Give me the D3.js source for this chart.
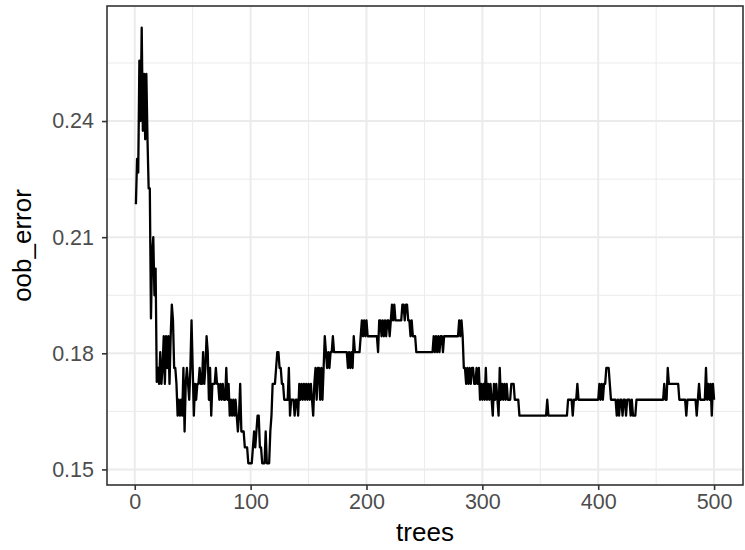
<!DOCTYPE html>
<html>
<head>
<meta charset="utf-8">
<script src="https://cdn.jsdelivr.net/npm/d3@7"></script>
<style>
  body { margin: 0; background: #fff; }
  svg { display: block; font-family: "Liberation Sans", Arial, sans-serif; }
</style>
</head>
<body>
<div class="graphic"></div>
<script>
// number of trees grown, oob error rate after each tree
var trees = d3.range(1, 501);
var oob_error = [
  0.2185, 0.2302, 0.2267, 0.2556, 0.2400, 0.2641, 0.2375, 0.2522, 0.2353, 0.2522,
  0.2353, 0.2226, 0.2226, 0.1890, 0.2058, 0.2100, 0.1950, 0.2019, 0.1726, 0.1762,
  0.1721, 0.1803, 0.1721, 0.1762, 0.1844, 0.1721, 0.1844, 0.1762, 0.1844, 0.1721,
  0.1844, 0.1926, 0.1885, 0.1762, 0.1762, 0.1721, 0.1639, 0.1680, 0.1639, 0.1680,
  0.1639, 0.1762, 0.1598, 0.1721, 0.1762, 0.1721, 0.1680, 0.1762, 0.1885, 0.1762,
  0.1639, 0.1721, 0.1680, 0.1721, 0.1721, 0.1762, 0.1721, 0.1721, 0.1803, 0.1721,
  0.1762, 0.1844, 0.1803, 0.1680, 0.1762, 0.1639, 0.1721, 0.1721, 0.1721, 0.1762,
  0.1721, 0.1721, 0.1680, 0.1721, 0.1680, 0.1721, 0.1680, 0.1680, 0.1762, 0.1680,
  0.1721, 0.1639, 0.1680, 0.1639, 0.1680, 0.1639, 0.1680, 0.1639, 0.1598, 0.1639,
  0.1721, 0.1598, 0.1598, 0.1598, 0.1557, 0.1557, 0.1557, 0.1516, 0.1516, 0.1516,
  0.1516, 0.1557, 0.1598, 0.1557, 0.1598, 0.1639, 0.1639, 0.1557, 0.1557, 0.1516,
  0.1516, 0.1516, 0.1598, 0.1516, 0.1516, 0.1516, 0.1598, 0.1639, 0.1721, 0.1721,
  0.1721, 0.1762, 0.1803, 0.1803, 0.1762, 0.1762, 0.1721, 0.1721, 0.1680, 0.1680,
  0.1680, 0.1680, 0.1762, 0.1639, 0.1680, 0.1680, 0.1680, 0.1639, 0.1680, 0.1680,
  0.1639, 0.1721, 0.1680, 0.1721, 0.1680, 0.1721, 0.1680, 0.1721, 0.1680, 0.1721,
  0.1680, 0.1721, 0.1680, 0.1639, 0.1721, 0.1762, 0.1680, 0.1762, 0.1762, 0.1680,
  0.1762, 0.1680, 0.1762, 0.1844, 0.1803, 0.1762, 0.1803, 0.1762, 0.1803, 0.1803,
  0.1844, 0.1803, 0.1803, 0.1803, 0.1803, 0.1803, 0.1803, 0.1803, 0.1803, 0.1803,
  0.1803, 0.1803, 0.1803, 0.1762, 0.1803, 0.1762, 0.1803, 0.1762, 0.1844, 0.1803,
  0.1803, 0.1803, 0.1803, 0.1803, 0.1844, 0.1885, 0.1844, 0.1885, 0.1844, 0.1885,
  0.1844, 0.1844, 0.1844, 0.1844, 0.1844, 0.1844, 0.1844, 0.1844, 0.1844, 0.1803,
  0.1885, 0.1885, 0.1844, 0.1885, 0.1844, 0.1885, 0.1844, 0.1885, 0.1885, 0.1844,
  0.1885, 0.1926, 0.1885, 0.1926, 0.1885, 0.1885, 0.1885, 0.1885, 0.1885, 0.1885,
  0.1926, 0.1926, 0.1885, 0.1926, 0.1926, 0.1885, 0.1885, 0.1844, 0.1885, 0.1844,
  0.1844, 0.1844, 0.1803, 0.1803, 0.1803, 0.1803, 0.1803, 0.1803, 0.1803, 0.1803,
  0.1803, 0.1803, 0.1803, 0.1803, 0.1803, 0.1803, 0.1803, 0.1844, 0.1803, 0.1844,
  0.1803, 0.1844, 0.1803, 0.1844, 0.1844, 0.1803, 0.1844, 0.1844, 0.1844, 0.1844,
  0.1844, 0.1844, 0.1844, 0.1844, 0.1844, 0.1844, 0.1844, 0.1844, 0.1844, 0.1885,
  0.1844, 0.1885, 0.1844, 0.1762, 0.1762, 0.1721, 0.1762, 0.1721, 0.1762, 0.1721,
  0.1762, 0.1762, 0.1721, 0.1721, 0.1762, 0.1721, 0.1762, 0.1680, 0.1721, 0.1680,
  0.1721, 0.1680, 0.1762, 0.1680, 0.1721, 0.1680, 0.1721, 0.1680, 0.1639, 0.1721,
  0.1680, 0.1721, 0.1680, 0.1639, 0.1762, 0.1680, 0.1721, 0.1680, 0.1721, 0.1680,
  0.1721, 0.1680, 0.1680, 0.1680, 0.1721, 0.1721, 0.1721, 0.1680, 0.1680, 0.1680,
  0.1680, 0.1639, 0.1639, 0.1639, 0.1639, 0.1639, 0.1639, 0.1639, 0.1639, 0.1639,
  0.1639, 0.1639, 0.1639, 0.1639, 0.1639, 0.1639, 0.1639, 0.1639, 0.1639, 0.1639,
  0.1639, 0.1639, 0.1639, 0.1639, 0.1639, 0.1680, 0.1639, 0.1639, 0.1639, 0.1639,
  0.1639, 0.1639, 0.1639, 0.1639, 0.1639, 0.1639, 0.1639, 0.1639, 0.1639, 0.1639,
  0.1639, 0.1639, 0.1639, 0.1680, 0.1680, 0.1680, 0.1680, 0.1639, 0.1680, 0.1680,
  0.1680, 0.1721, 0.1680, 0.1680, 0.1680, 0.1680, 0.1680, 0.1680, 0.1680, 0.1680,
  0.1680, 0.1680, 0.1680, 0.1680, 0.1680, 0.1680, 0.1680, 0.1680, 0.1680, 0.1680,
  0.1721, 0.1680, 0.1721, 0.1680, 0.1721, 0.1721, 0.1762, 0.1762, 0.1762, 0.1721,
  0.1680, 0.1680, 0.1680, 0.1680, 0.1680, 0.1639, 0.1680, 0.1639, 0.1680, 0.1680,
  0.1639, 0.1680, 0.1680, 0.1639, 0.1680, 0.1680, 0.1680, 0.1639, 0.1680, 0.1639,
  0.1639, 0.1639, 0.1680, 0.1680, 0.1680, 0.1680, 0.1680, 0.1680, 0.1680, 0.1680,
  0.1680, 0.1680, 0.1680, 0.1680, 0.1680, 0.1680, 0.1680, 0.1680, 0.1680, 0.1680,
  0.1680, 0.1680, 0.1680, 0.1680, 0.1680, 0.1680, 0.1721, 0.1680, 0.1680, 0.1762,
  0.1721, 0.1721, 0.1721, 0.1721, 0.1721, 0.1721, 0.1721, 0.1721, 0.1721, 0.1680,
  0.1680, 0.1680, 0.1680, 0.1680, 0.1680, 0.1639, 0.1680, 0.1680, 0.1680, 0.1680,
  0.1680, 0.1680, 0.1680, 0.1680, 0.1639, 0.1680, 0.1721, 0.1680, 0.1680, 0.1680,
  0.1680, 0.1680, 0.1762, 0.1680, 0.1721, 0.1680, 0.1721, 0.1639, 0.1721, 0.1680
];
var xTicks = [0, 100, 200, 300, 400, 500];
var xMinor = [50, 150, 250, 350, 450];
var yTicks = [0.15, 0.18, 0.21, 0.24];
var yMinor = [0.165, 0.195, 0.225, 0.255];

var data = trees.map(function(t, i) { return { trees: t, oob_error: oob_error[i] }; });

var width = 745, height = 550;
var panel = { left: 107, right: 743, top: 6, bottom: 485 };

// ggplot style 5% expansion on both axes
var xExt = d3.extent(trees);
var xPad = (xExt[1] - xExt[0]) * 0.05;
var yExt = d3.extent(oob_error);
var yPad = (yExt[1] - yExt[0]) * 0.05;

var x = d3.scaleLinear()
  .domain([xExt[0] - xPad, xExt[1] + xPad])
  .range([panel.left, panel.right]);

var y = d3.scaleLinear()
  .domain([yExt[0] - yPad, yExt[1] + yPad])
  .range([panel.bottom, panel.top]);

var svg = d3.select(".graphic").append("svg")
  .attr("width", width)
  .attr("height", height);

svg.append("rect")
  .attr("x", panel.left).attr("y", panel.top)
  .attr("width", panel.right - panel.left)
  .attr("height", panel.bottom - panel.top)
  .attr("fill", "#fff");

var grid = svg.append("g").attr("class", "grid");

// minor grid
grid.selectAll(".xminor").data(xMinor).enter().append("line")
  .attr("x1", function(d) { return x(d); }).attr("x2", function(d) { return x(d); })
  .attr("y1", panel.top).attr("y2", panel.bottom)
  .attr("stroke", "#ebebeb").attr("stroke-width", 1);
grid.selectAll(".yminor").data(yMinor).enter().append("line")
  .attr("y1", function(d) { return y(d); }).attr("y2", function(d) { return y(d); })
  .attr("x1", panel.left).attr("x2", panel.right)
  .attr("stroke", "#ebebeb").attr("stroke-width", 1);

// major grid
grid.selectAll(".xmajor").data(xTicks).enter().append("line")
  .attr("x1", function(d) { return x(d); }).attr("x2", function(d) { return x(d); })
  .attr("y1", panel.top).attr("y2", panel.bottom)
  .attr("stroke", "#ebebeb").attr("stroke-width", 2);
grid.selectAll(".ymajor").data(yTicks).enter().append("line")
  .attr("y1", function(d) { return y(d); }).attr("y2", function(d) { return y(d); })
  .attr("x1", panel.left).attr("x2", panel.right)
  .attr("stroke", "#ebebeb").attr("stroke-width", 2);

var line = d3.line()
  .x(function(d) { return x(d.trees); })
  .y(function(d) { return y(d.oob_error); });

svg.append("path")
  .datum(data)
  .attr("d", line)
  .attr("fill", "none")
  .attr("stroke", "#000")
  .attr("stroke-width", 2.3)
  .attr("stroke-linejoin", "round");

// panel border
svg.append("rect")
  .attr("x", panel.left).attr("y", panel.top)
  .attr("width", panel.right - panel.left)
  .attr("height", panel.bottom - panel.top)
  .attr("fill", "none")
  .attr("stroke", "#333333")
  .attr("stroke-width", 1.6);

// axes
var xAxis = svg.append("g")
  .attr("transform", "translate(0," + panel.bottom + ")")
  .call(d3.axisBottom(x).tickValues(xTicks).tickSize(5).tickPadding(4).tickFormat(d3.format("d")));
var yAxis = svg.append("g")
  .attr("transform", "translate(" + panel.left + ",0)")
  .call(d3.axisLeft(y).tickValues(yTicks).tickSize(5).tickPadding(8).tickFormat(d3.format(".2f")));

[xAxis, yAxis].forEach(function(ax) {
  ax.select(".domain").remove();
  ax.selectAll(".tick line").attr("stroke", "#333333").attr("stroke-width", 1.6);
  ax.selectAll(".tick text")
    .attr("fill", "#4d4d4d")
    .style("font-size", "21.5px")
    .style("font-family", "'Liberation Sans', Arial, sans-serif");
});

svg.append("text")
  .attr("x", (panel.left + panel.right) / 2)
  .attr("y", 541)
  .attr("text-anchor", "middle")
  .style("font-size", "26px")
  .attr("fill", "#000")
  .text("trees");

svg.append("text")
  .attr("transform", "translate(31," + ((panel.top + panel.bottom) / 2) + ") rotate(-90)")
  .attr("text-anchor", "middle")
  .style("font-size", "26px")
  .attr("fill", "#000")
  .text("oob_error");
</script>
</body>
</html>
